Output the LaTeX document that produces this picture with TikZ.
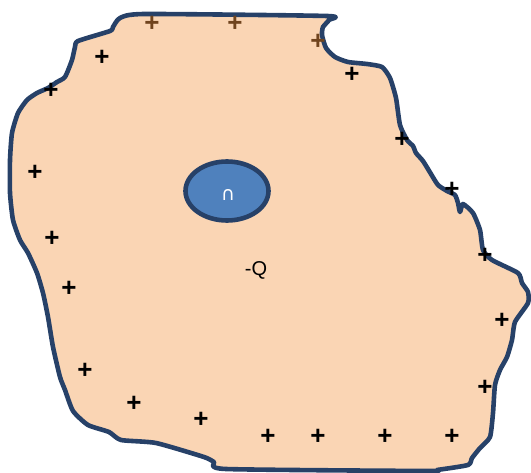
\documentclass[tikz,border=0pt]{standalone}
\usepackage{fontspec}
\setmainfont{Liberation Sans}
\newfontfamily\symfont{DejaVu Sans}
\usepackage{tikz}
\usetikzlibrary{shapes.geometric}
\definecolor{navyline}{RGB}{39,65,104}
\definecolor{peach}{RGB}{250,213,180}
\definecolor{chargeblue}{RGB}{79,129,189}
\definecolor{plusbrown}{RGB}{112,68,30}

\begin{document}
\begin{tikzpicture}[x=1pt, y=-1pt,
	every node/.style={font=\fontsize{20}{24}\selectfont, inner sep=0pt},
	pc/.style={font=\fontsize{26}{28}\selectfont\bfseries},
	pcb/.style={pc, text=plusbrown}]
	\useasboundingbox (0,0) rectangle (531,473);
	% conductor
	\draw[navyline, line width=4.6pt, fill=peach, line join=round]
		plot[smooth cycle, tension=0.35] coordinates {
		(145,14) (327,16) (329,20) (323,27) (322,35) (326,48) (335,57) (348,62)
		(367,64) (382,67) (390,78) (396,98) (400,125) (407,140) (413,146) (416,153)
		(423,161) (431,174) (438,185) (447,191) (455,195) (458,203) (460,212) (463,204)
		(473,213) (480,230) (483,250) (492,260) (518,273) (522,283) (528,292) (528,303)
		(515,322) (512,340) (507,357) (500,370) (495,385) (493,413) (490,437) (480,448)
		(472,458) (468,465) (437,470) (428,471) (226,469) (214,462) (204,457) (156,443)
		(121,440) (109,432) (88,425) (73,411) (65,390) (60,377) (53,347) (48,317)
		(43,293) (37,273) (28,253) (20,240) (13,220) (10,193) (10,160) (12,133)
		(18,113) (27,100) (37,93) (48,88) (57,82) (65,77) (72,60) (75,47)
		(78,41) (110,31) (113,27) (120,18)};
	% charge in the cavity
	\node[draw=navyline, line width=4.6pt, fill=chargeblue, ellipse, minimum width=83pt, minimum height=59pt] (q) at (227,191) {};
	\node[text=white, font=\fontsize{19}{20}\symfont] (cap) at (228,195) {∩};
	\node (lbl) at (256,270) {-Q};
	% induced charges
	\node[pcb] (p1) at (152,24) {+};
	\node[pcb] (p2) at (235,24) {+};
	\node[pcb] (p3) at (318,42) {+};
	\node[pc] (p4) at (102,58) {+};
	\node[pc] (p5) at (51,91) {+};
	\node[pc] (p6) at (35,173) {+};
	\node[pc] (p7) at (52,239) {+};
	\node[pc] (p8) at (69,289) {+};
	\node[pc] (p9) at (85,371) {+};
	\node[pc] (p10) at (134,404) {+};
	\node[pc] (p11) at (201,420) {+};
	\node[pc] (p12) at (268,437) {+};
	\node[pc] (p13) at (318,437) {+};
	\node[pc] (p14) at (385,437) {+};
	\node[pc] (p15) at (452,437) {+};
	\node[pc] (p16) at (485,388) {+};
	\node[pc] (p17) at (502,321) {+};
	\node[pc] (p18) at (485,256) {+};
	\node[pc] (p19) at (452,190) {+};
	\node[pc] (p20) at (402,140) {+};
	\node[pc] (p21) at (352,75) {+};
\end{tikzpicture}
\end{document}
